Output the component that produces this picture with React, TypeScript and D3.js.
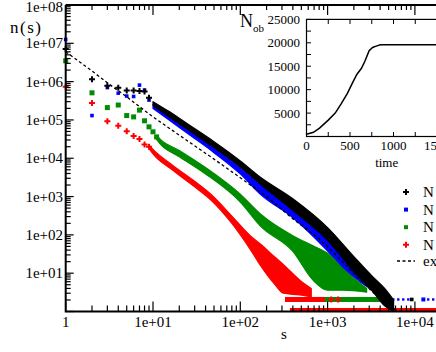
import React from 'react';
import * as d3 from 'd3';

// ---- main plot data: cluster size s vs number n(s) ----
// discrete markers at small s
const blackPts: [number, number][] = [[1, 7.1e6], [2, 1.15e6], [3, 7.8e5], [4, 6.9e5], [5, 5.9e5], [6, 5.9e5], [7, 5.7e5], [8, 5.5e5], [9, 3.8e5]];
const bluePts: [number, number][] = [[1, 1.26e7], [2, 1.3e5], [3, 7.0e5], [4, 5.0e5], [5, 4.2e5], [6, 4.1e5], [7, 8.1e5], [8, 6.0e5], [9, 3.3e5]];
const greenPts: [number, number][] = [[1, 3.5e6], [2, 5.1e5], [3, 2.1e5], [4, 2.45e5], [5, 1.3e5], [6, 1.2e5], [7, 1.8e5], [8, 9.5e4], [9, 6.6e4], [10, 4.9e4], [11, 3.6e4]];
const redPts: [number, number][] = [[1, 7.4e5], [2, 2.75e5], [3, 9.3e4], [4, 7.1e4], [5, 5.1e4], [6, 3.8e4], [7, 3.2e4], [8, 2.3e4], [9, 2.0e4]];

// dense scatter region: [s, low n, high n]
const blackBand: [number, number, number][] = [[10, 2.4e5, 3.0e5], [15, 1.25e5, 1.7e5], [25, 5.6e4, 7.8e4], [50, 1.9e4, 2.7e4], [100, 5.9e3, 8.5e3], [170, 2.1e3, 3.2e3], [400, 440, 880], [1000, 72, 155], [2000, 11, 27], [3300, 3.3, 8], [4500, 1.4, 4], [5700, 1, 2]];
const blueBand: [number, number, number][] = [[10, 2.0e5, 2.5e5], [15, 1.02e5, 1.35e5], [25, 4.4e4, 5.8e4], [50, 1.4e4, 1.95e4], [100, 3.9e3, 5.5e3], [170, 1.15e3, 2.0e3], [400, 280, 600], [1000, 38, 95], [1650, 11, 24], [2350, 6, 11], [3650, 2.8, 5], [4200, 2, 3.2]];
const greenBand: [number, number, number][] = [[11, 3.1e4, 4.0e4], [12, 2.4e4, 3.2e4], [20, 1.1e4, 1.6e4], [40, 3.9e3, 5.7e3], [100, 720, 1.15e3], [170, 170, 350], [400, 37, 95], [680, 6.6, 52], [1000, 3.6, 33], [1500, 3.6, 13], [2800, 3.2, 4]];
const redBand: [number, number, number][] = [[9, 1.8e4, 2.2e4], [10, 1.3e4, 1.7e4], [17, 4.8e3, 6.4e3], [30, 1.8e3, 2.5e3], [47, 780, 1.1e3], [80, 200, 310], [130, 42, 95], [170, 16, 58], [250, 5, 26], [310, 3, 17], [480, 2.7, 6.6], [650, 2.4, 4]];

// rows of points sitting on n = 2 and n = 1: [s from, s to, n]
const greenRows: [number, number, number][] = [[700, 4900, 2]];
const redRows: [number, number, number][] = [[325, 930, 2], [370, 20000, 1]];
const redTail: [number, number][] = [[1100, 2], [1320, 2]];
const blueTail: [number, number][] = [[4750, 2], [5660, 2], [6450, 2], [7360, 2], [8400, 2], [12500, 2], [14200, 2], [16200, 2]];
const blackTail: [number, number][] = [[9200, 2]];

// dashed reference curve
const exactCurve: [number, number][] = [[1, 6.0e6], [2, 1.9e6], [3, 9.3e5], [5, 4.0e5], [10, 1.2e5], [20, 4.0e4], [50, 9.5e3], [100, 3.1e3], [200, 1.0e3], [400, 263], [750, 89], [1000, 50], [1600, 16.6], [2300, 7], [4000, 2.1], [5600, 1.26], [6300, 1]];

const xTickLabels = ['1', '1e+01', '1e+02', '1e+03', '1e+04'];
const yTickLabels = ['1e+01', '1e+02', '1e+03', '1e+04', '1e+05', '1e+06', '1e+07', '1e+08'];

// ---- inset data: N_ob against time ----
const timeVals = [0, 80, 150, 250, 330, 400, 470, 530, 580, 630, 670, 720, 760, 800, 850, 1000, 1300, 1600];
const nobVals = [500, 900, 1800, 3500, 5000, 7000, 9200, 11500, 13300, 14500, 16000, 18300, 19000, 19300, 19600, 19600, 19600, 19600];
const insetXLabels = [0, 500, 1000, 1500];
const insetYLabels = [5000, 10000, 15000, 20000, 25000];

// legend text is cut by the picture edge in the original, only the start shows
const legendItems = [
  { color: '#000000', sym: 'plus', name: 'N' },
  { color: '#0000ff', sym: 'square', name: 'N' },
  { color: '#008c00', sym: 'square', name: 'N' },
  { color: '#ff0000', sym: 'plus', name: 'N' },
];

const font = '"Liberation Serif", "DejaVu Serif", serif';

const App = () => {
  const W = 436;
  const H = 352;
  const left = 65.7;
  const top = 5;
  const bottom = 311.5;
  const perDecade = 87.3;

  const x = d3.scaleLog().domain([1, 2e4]).range([left, left + perDecade * Math.log10(2e4)]);
  const y = d3.scaleLog().domain([1, 1e8]).range([bottom, top]);

  const area = d3.area<[number, number, number]>()
    .x(d => x(d[0]))
    .y0(d => y(d[1]))
    .y1(d => y(d[2]))
    .curve(d3.curveMonotoneX);

  const line = d3.line<[number, number]>()
    .x(d => x(d[0]))
    .y(d => y(d[1]));

  const marker = (sym: string, cx: number, cy: number, color: string, size: number, key: any) => {
    if (sym === 'plus') {
      return (
        <path key={key} d={`M${cx - size},${cy}H${cx + size}M${cx},${cy - size}V${cy + size}`}
          stroke={color} strokeWidth={2} fill="none" />
      );
    }
    return <rect key={key} x={cx - size} y={cy - size} width={size * 2} height={size * 2} fill={color} />;
  };

  const xTicks: { v: number; major: boolean }[] = [];
  for (let e = 0; e <= 4; e++) {
    for (let m = 1; m <= 9; m++) {
      const v = m * Math.pow(10, e);
      if (v <= 2e4) xTicks.push({ v, major: m === 1 });
    }
  }
  const yTicks: { v: number; major: boolean }[] = [];
  for (let e = 0; e <= 7; e++) {
    for (let m = 1; m <= 9; m++) yTicks.push({ v: m * Math.pow(10, e), major: m === 1 });
  }
  yTicks.push({ v: 1e8, major: true });

  // inset scales
  const ix = d3.scaleLinear().domain([0, 2000]).range([306.5, 306.5 + 174]);
  const iy = d3.scaleLinear().domain([0, 25000]).range([136.5, 19.4]);
  const insetLine = d3.line<number>()
    .x((d, i) => ix(timeVals[i]))
    .y(d => iy(d));

  const series = [
    { color: '#0000ff', band: blueBand, pts: bluePts, sym: 'square', size: 1.8 },
    { color: '#000000', band: blackBand, pts: blackPts, sym: 'plus', size: 3 },
    { color: '#008c00', band: greenBand, pts: greenPts, sym: 'square', size: 2.5 },
    { color: '#ff0000', band: redBand, pts: redPts, sym: 'plus', size: 3 },
  ];

  return (
    <svg width={W} height={H} style={{ position: 'absolute', left: 0, top: 0, background: '#fff' }}
      fontFamily={font}>
      <rect x={0} y={0} width={W} height={H} fill="#fff" />

      {/* floor rows */}
      {greenRows.map((r, i) => (
        <rect key={'gr' + i} x={x(r[0])} y={y(r[2]) - 3} width={x(r[1]) - x(r[0])} height={5} fill="#008c00" />
      ))}
      {redRows.map((r, i) => (
        <rect key={'rr' + i} x={x(r[0])} y={r[2] === 1 ? y(r[2]) - 3.5 : y(r[2]) - 3}
          width={x(r[1]) - x(r[0])} height={r[2] === 1 ? 3 : 5} fill="#ff0000" />
      ))}
      {redTail.map((p, i) => marker('plus', x(p[0]), y(p[1]) - 0.5, '#ff0000', 3, 'rt' + i))}
      {blueTail.map((p, i) => marker('square', x(p[0]), y(p[1]) - 0.5, '#0000ff', i === 5 ? 2 : 1.2, 'bt' + i))}
      {blackTail.map((p, i) => marker('square', x(p[0]), y(p[1]) - 0.5, '#000000', 1.8, 'kt' + i))}

      {/* series */}
      {series.map((s, i) => (
        <g key={'s' + i}>
          <path d={area(s.band) || ''} fill={s.color} stroke={s.color} strokeWidth={1.2} strokeLinejoin="round" />
          {s.pts.map((p, j) => marker(s.sym, x(p[0]), y(p[1]), s.color, s.size, j))}
        </g>
      ))}

      {/* dashed curve */}
      <path d={line(exactCurve) || ''} fill="none" stroke="#000" strokeWidth={1.3} strokeDasharray="3,2.5" />

      {/* axes frame */}
      <path d={`M${left},${top}H${W}M${left},${top}V${bottom}H${W}`} fill="none" stroke="#000" strokeWidth={2} />
      {xTicks.map((t, i) => (
        <g key={'xt' + i}>
          <line x1={x(t.v)} x2={x(t.v)} y1={bottom} y2={bottom - (t.major ? 10 : 6)} stroke="#000" strokeWidth={1.2} />
          <line x1={x(t.v)} x2={x(t.v)} y1={top} y2={top + (t.major ? 10 : 5)} stroke="#000" strokeWidth={1.2} />
        </g>
      ))}
      {yTicks.map((t, i) => (
        <line key={'yt' + i} x1={left} x2={left + (t.major ? 8 : 5)} y1={y(t.v)} y2={y(t.v)} stroke="#000" strokeWidth={1.2} />
      ))}
      {xTickLabels.map((l, i) => (
        <text key={'xl' + i} x={x(Math.pow(10, i))} y={326.5} fontSize={15} textAnchor="middle">{l}</text>
      ))}
      {yTickLabels.map((l, i) => (
        <text key={'yl' + i} x={63} y={Math.max(y(Math.pow(10, i + 1)) + 5, 12)} fontSize={15} textAnchor="end">{l}</text>
      ))}
      <text x={284} y={339} fontSize={15} textAnchor="middle">s</text>
      <text x={10} y={33} fontSize={17} letterSpacing={1.5}>n(s)</text>

      {/* legend */}
      {legendItems.map((it, i) => (
        <g key={'lg' + i}>
          {marker(it.sym, 406, 192 + i * 17.6, it.color, it.sym === 'plus' ? 3 : 2, 'm')}
          <text x={423} y={192 + i * 17.6 + 5} fontSize={15}>{it.name}</text>
        </g>
      ))}
      <line x1={397} x2={415} y1={261} y2={261} stroke="#000" strokeWidth={1.3} strokeDasharray="3,2.5" />
      <text x={423} y={266} fontSize={15}>ex</text>

      {/* inset */}
      <rect x={306.5} y={19.4} width={W} height={117.1} fill="#fff" stroke="#000" strokeWidth={1.2} />
      {d3.range(0, 2001, 250).map((v, i) => (
        <g key={'ixt' + i}>
          <line x1={ix(v)} x2={ix(v)} y1={136.5} y2={132} stroke="#000" strokeWidth={1} />
          <line x1={ix(v)} x2={ix(v)} y1={19.4} y2={24} stroke="#000" strokeWidth={1} />
        </g>
      ))}
      {d3.range(0, 25001, 2500).map((v, i) => (
        <line key={'iyt' + i} x1={306.5} x2={311} y1={iy(v)} y2={iy(v)} stroke="#000" strokeWidth={1} />
      ))}
      {insetXLabels.map((v, i) => (
        <text key={'ixl' + i} x={ix(v)} y={150} fontSize={13} textAnchor="middle">{v}</text>
      ))}
      {insetYLabels.map((v, i) => (
        <text key={'iyl' + i} x={300} y={iy(v) + 4.5} fontSize={13} textAnchor="end">{v}</text>
      ))}
      <text x={386.7} y={167} fontSize={13} textAnchor="middle">time</text>
      <text x={240} y={27} fontSize={18}>N<tspan fontSize={11} dy={5}>ob</tspan></text>
      <path d={insetLine(nobVals) || ''} fill="none" stroke="#000" strokeWidth={1.5} />
    </svg>
  );
};

export default App;
